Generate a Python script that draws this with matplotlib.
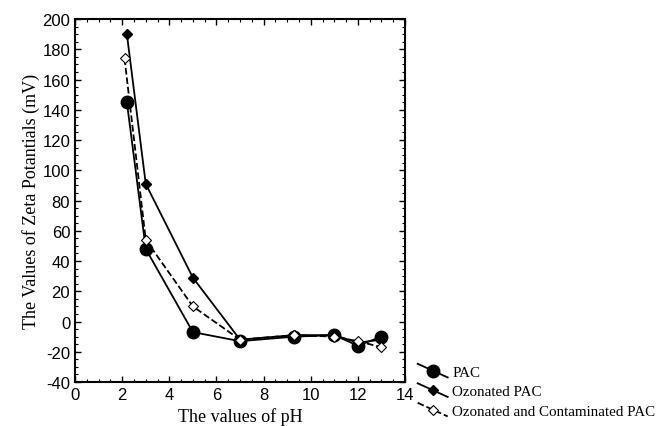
import numpy as np
import matplotlib.pyplot as plt
from matplotlib.legend_handler import HandlerLine2D
from matplotlib.ticker import MultipleLocator, AutoMinorLocator

plt.rcParams['axes.unicode_minus'] = False

# data
ph_pac = [2.2, 3, 5, 7, 9.3, 11, 12, 13]
zeta_pac = [145, 48, -7, -13, -10, -9, -16, -10]

ph_ozo = [2.2, 3, 5, 7, 9.3, 11, 12, 13]
zeta_ozo = [190, 91, 29, -12, -9, -9, -14, -12]

ph_cont = [2.1, 3, 5, 7, 9.3, 11, 12, 13]
zeta_cont = [174, 54, 10, -12, -9, -10, -13, -17]

labels = ['PAC', 'Ozonated PAC', 'Ozonated and Contaminated PAC']


class SlantHandler(HandlerLine2D):
    # legend lines drawn sloping down, like the original
    def create_artists(self, legend, orig_handle, xdescent, ydescent,
                       width, height, fontsize, trans):
        arts = super().create_artists(legend, orig_handle, xdescent, ydescent,
                                      width, height, fontsize, trans)
        for a in arts:
            yd = np.asarray(a.get_ydata(), dtype=float)
            if len(yd) >= 2:
                a.set_ydata(yd + np.linspace(height * 0.65, -height * 0.65, len(yd)))
        return arts


fig = plt.figure(figsize=(6.64, 4.27), dpi=100)
ax = fig.add_axes([0.113, 0.103, 0.497, 0.850])

l1, = ax.plot(ph_pac, zeta_pac, '-', color='black', lw=1.3,
              marker='o', ms=9, mfc='black', mec='black')
l2, = ax.plot(ph_ozo, zeta_ozo, '-', color='black', lw=1.3,
              marker='D', ms=5, mfc='black', mec='black')
l3, = ax.plot(ph_cont, zeta_cont, '--', color='black', lw=1.3,
              marker='D', ms=5, mfc='white', mec='black', mew=0.8)

ax.set_xlim(0, 14)
ax.set_ylim(-40, 200)
ax.xaxis.set_major_locator(MultipleLocator(2))
ax.yaxis.set_major_locator(MultipleLocator(20))
ax.xaxis.set_minor_locator(AutoMinorLocator(4))
ax.yaxis.set_minor_locator(AutoMinorLocator(4))
ax.tick_params(which='both', direction='in', top=True, right=True)
ax.tick_params(which='major', length=4, width=1)
ax.tick_params(which='minor', length=2, width=0.8)
for lab in ax.get_xticklabels() + ax.get_yticklabels():
    lab.set_fontfamily('Liberation Sans')
    lab.set_fontsize(12)
for sp in ax.spines.values():
    sp.set_linewidth(1.5)

ax.set_xlabel('The values of pH', fontfamily='Liberation Serif', fontsize=13, labelpad=4)
ax.set_ylabel('The Values of Zeta Potantials (mV)', fontfamily='Liberation Serif',
              fontsize=13, labelpad=2)

fig.legend([l1, l2, l3], labels, loc='lower left', bbox_to_anchor=(0.62, 0.005),
           frameon=False, handlelength=2.0, handletextpad=0.3, labelspacing=0.4,
           borderaxespad=0.0,
           prop={'family': 'Liberation Serif', 'size': 10.8},
           handler_map={l1: SlantHandler(), l2: SlantHandler(), l3: SlantHandler()})

fig.savefig('out.png', dpi=100)
